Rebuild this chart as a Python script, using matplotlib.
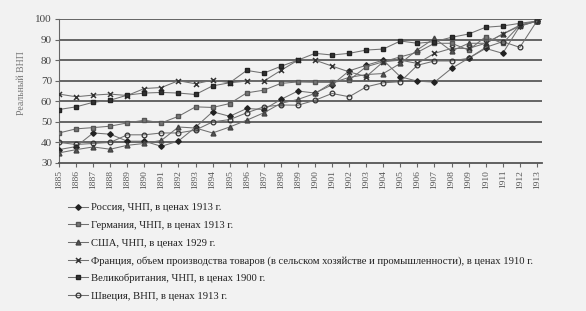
import matplotlib
matplotlib.use("Agg")
import matplotlib.pyplot as plt
import numpy as np

years = list(range(1885, 1914))

russia = [36.5, 38.0, 44.6, 44.0, 40.6, 40.6, 38.1, 40.7, 47.4, 54.9,
          52.7, 56.5, 56.0, 60.9, 65.0, 64.0, 68.0, 74.8, 77.5, 80.0,
          71.9, 69.8, 69.3, 76.0, 80.9, 85.7, 83.3, 96.5, 99.0]
germany = [44.6, 46.6, 47.2, 47.9, 49.5, 50.8, 49.5, 52.7, 57.3, 57.0,
           58.9, 64.1, 65.4, 68.7, 69.4, 69.2, 69.2, 70.3, 76.8, 79.2,
           81.6, 83.8, 88.2, 88.2, 84.9, 91.4, 88.2, 97.0, 99.0]
usa = [34.9, 36.5, 37.8, 36.7, 38.6, 39.5, 41.0, 47.5, 47.0, 44.6,
       47.5, 50.8, 54.4, 59.0, 60.9, 63.8, 69.0, 71.6, 73.0, 73.5,
       78.4, 85.0, 90.6, 84.4, 88.2, 88.2, 92.7, 97.0, 99.0]
france = [63.5, 62.2, 63.0, 63.5, 62.8, 66.2, 66.7, 70.0, 68.5, 70.3,
          69.0, 69.8, 69.8, 75.0, 80.0, 80.0, 77.1, 74.3, 72.0, 79.2,
          80.0, 78.4, 83.3, 85.7, 85.7, 88.2, 92.7, 96.5, 99.0]
britain = [56.0, 57.3, 59.5, 60.5, 63.0, 64.0, 64.3, 64.0, 63.3, 67.5,
           69.0, 75.0, 73.7, 77.0, 80.0, 83.3, 82.5, 83.3, 84.9, 85.4,
           89.3, 88.2, 89.0, 91.1, 92.7, 96.0, 96.6, 97.9, 99.0]
sweden = [40.0, 39.0, 39.5, 40.0, 43.7, 43.7, 44.6, 44.6, 46.0, 50.0,
          51.1, 54.4, 57.3, 58.2, 58.1, 60.5, 63.8, 62.2, 67.0, 69.0,
          69.5, 77.5, 79.6, 79.6, 80.9, 86.2, 89.0, 86.2, 99.0]

labels = [
    "Россия, ЧНП, в ценах 1913 г.",
    "Германия, ЧНП, в ценах 1913 г.",
    "США, ЧНП, в ценах 1929 г.",
    "Франция, объем производства товаров (в сельском хозяйстве и промышленности), в ценах 1910 г.",
    "Великобритания, ЧНП, в ценах 1900 г.",
    "Швеция, ВНП, в ценах 1913 г.",
]
series = [russia, germany, usa, france, britain, sweden]

styles = [
    dict(marker="D", ms=2.8, mfc="#222222", mec="#222222"),
    dict(marker="s", ms=3.3, mfc="#777777", mec="#555555"),
    dict(marker="^", ms=3.5, mfc="#555555", mec="#444444"),
    dict(marker="x", ms=3.6, mfc="#333333", mec="#333333", mew=1.1),
    dict(marker="s", ms=3.3, mfc="#333333", mec="#222222"),
    dict(marker="o", ms=3.4, mfc="none", mec="#333333", mew=0.9),
]

serif = ["Liberation Serif", "DejaVu Serif"]
bg = "#f2f2f2"

fig = plt.figure(figsize=(5.86, 3.11), dpi=100, facecolor=bg)
ax = fig.add_axes([59 / 586, 1 - 163 / 311, (542 - 59) / 586, (163 - 19) / 311])
ax.set_facecolor(bg)

for val in range(40, 101, 10):
    ax.axhline(val, color="#5a5a5a", lw=1.3, zorder=1)

for data, lab, st in zip(series, labels, styles):
    ax.plot(years, data, color="#707070", lw=0.75, label=lab, zorder=3, **st)

ax.set_xlim(1885, 1913.3)
ax.set_ylim(30, 100)
ax.set_yticks(range(30, 101, 10))
ax.set_xticks(years)
ax.set_xticklabels([str(y) for y in years], rotation=90, fontsize=6.8,
                   family=serif, color="#555555")
for t in ax.get_yticklabels():
    t.set_family(serif)
    t.set_fontsize(8)
    t.set_color("#444444")

for side in ("top", "right"):
    ax.spines[side].set_visible(False)
ax.spines["left"].set_color("#666666")
ax.spines["bottom"].set_color("#555555")
ax.spines["bottom"].set_linewidth(1.3)
ax.tick_params(axis="both", direction="out", length=3, color="#666666",
               width=0.8, pad=2)

ax.set_ylabel("Реальный ВНП", family=serif, fontsize=7, color="#777777")
ax.yaxis.set_label_coords(-0.068, 0.555)

leg = fig.legend(loc="upper left", bbox_to_anchor=(68 / 586, 1 - 203 / 311),
                 frameon=False, prop={"family": serif, "size": 7.7},
                 handlelength=1.9, handletextpad=0.25, labelspacing=0.76,
                 borderaxespad=0, borderpad=0)
for t in leg.get_texts():
    t.set_color("#222222")

fig.savefig("out.png", dpi=100, facecolor=bg)
